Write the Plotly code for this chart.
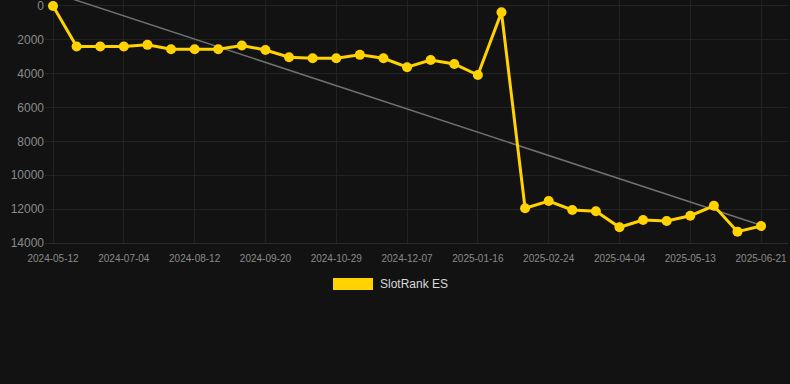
import numpy as np
import plotly.graph_objects as go

dates = [
    "2024-05-12", "2024-06-08", "2024-06-21", "2024-07-04", "2024-07-17", "2024-07-30",
    "2024-08-12", "2024-08-25", "2024-09-07", "2024-09-20", "2024-10-03", "2024-10-16",
    "2024-10-29", "2024-11-11", "2024-11-24", "2024-12-07", "2024-12-20", "2025-01-03",
    "2025-01-16", "2025-01-29", "2025-02-11", "2025-02-24", "2025-03-09", "2025-03-22",
    "2025-04-04", "2025-04-17", "2025-04-30", "2025-05-13", "2025-05-26", "2025-06-08",
    "2025-06-21",
]
rank_es = [
    0, 2400, 2400, 2400, 2300, 2560, 2560, 2560, 2340, 2600, 3030, 3090,
    3090, 2890, 3090, 3620, 3190, 3430, 4080, 375, 11950, 11520, 12050, 12130,
    13070, 12640, 12700, 12390, 11800, 13330, 13000,
]
tick_labels = dates[::3]
y_ticks = [0, 2000, 4000, 6000, 8000, 10000, 12000, 14000]
series_name = "SlotRank ES"

YELLOW = "#FFD200"
BG = "#121212"
GRID = "#222222"
TICK = "#8a8a8a"

idx = np.arange(len(rank_es))
slope, intercept = np.polyfit(idx, rank_es, 1)
trend = slope * idx + intercept

fig = go.Figure()
fig.add_trace(go.Scatter(
    x=dates, y=trend, mode="lines",
    line=dict(color="#707070", width=1.5),
    hoverinfo="skip", showlegend=False,
))
fig.add_trace(go.Scatter(
    x=dates, y=rank_es, mode="lines+markers", name=series_name,
    line=dict(color=YELLOW, width=3),
    marker=dict(color=YELLOW, size=10),
    showlegend=False,
))

fig.update_layout(
    width=790, height=384,
    margin=dict(l=45, r=2, t=0, b=141),
    paper_bgcolor=BG, plot_bgcolor=BG,
    font=dict(family="Liberation Sans, Arial, sans-serif", color=TICK),
    xaxis=dict(
        type="category",
        categoryorder="array", categoryarray=dates,
        range=[-0.34, 31.14],
        tickmode="array", tickvals=tick_labels, ticktext=tick_labels,
        tickfont=dict(size=10, color=TICK),
        ticklabelstandoff=6,
        ticklabeloverflow="allow",
        showgrid=True, gridcolor=GRID, gridwidth=1,
        zeroline=False, showline=True, linecolor="#2a2a2a", linewidth=1,
        ticks="",
    ),
    yaxis=dict(
        range=[14000, -350],
        tickmode="array", tickvals=y_ticks,
        ticktext=[str(v) for v in y_ticks],
        tickfont=dict(size=12, color=TICK),
        ticklabeloverflow="allow",
        showgrid=True, gridcolor=GRID, gridwidth=1,
        zeroline=False, showline=False, ticks="",
    ),
    shapes=[dict(
        type="rect", xref="paper", yref="paper",
        x0=(333 - 45) / 743, x1=(373 - 45) / 743,
        y0=(243 - 290) / 243, y1=(243 - 278) / 243,
        fillcolor=YELLOW, line=dict(width=0),
    )],
    annotations=[dict(
        text=series_name, xref="paper", yref="paper",
        x=(378 - 45) / 743, y=(243 - 284) / 243,
        xanchor="left", yanchor="middle", showarrow=False,
        font=dict(size=12, color="#d8d8d8"),
    )],
)

fig.write_html(
    "out.html",
    config={"displayModeBar": False},
    post_script="document.body.style.margin='0';document.body.style.background='#121212';",
)
